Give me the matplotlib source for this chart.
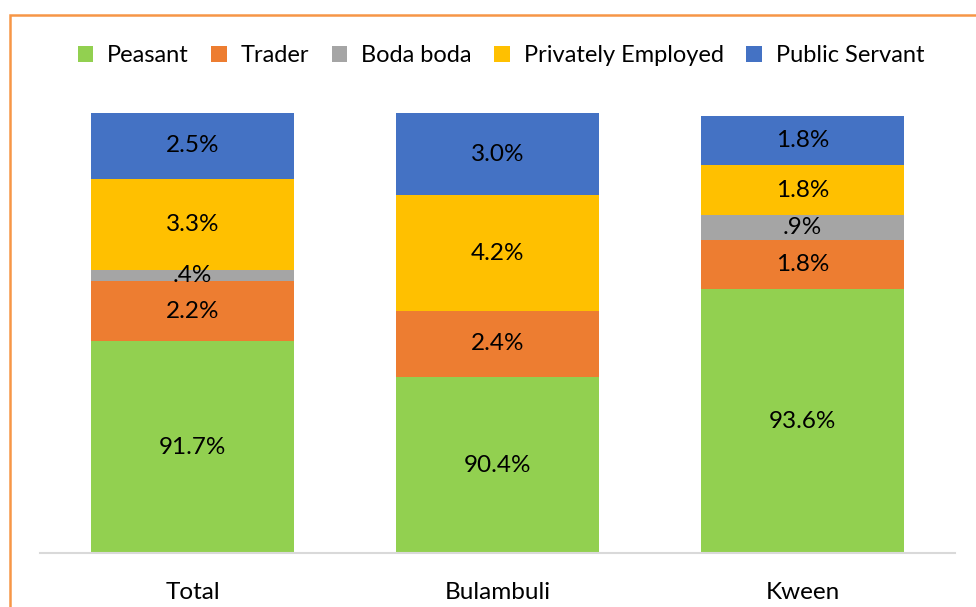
import matplotlib
matplotlib.use("Agg")
import matplotlib.pyplot as plt
from matplotlib.patches import Rectangle, Patch

categories = ["Total", "Bulambuli", "Kween"]
series_names = ["Peasant", "Trader", "Boda boda", "Privately Employed", "Public Servant"]
peasant = [91.7, 90.4, 93.6]
trader = [2.2, 2.4, 1.8]
boda = [0.4, 0.0, 0.9]
private = [3.3, 4.2, 1.8]
public = [2.5, 3.0, 1.8]
colors = ["#92D050", "#ED7D31", "#A5A5A5", "#FFC000", "#4472C4"]
y_min, y_max = 84, 100

def fmt(v):
    s = f"{v:.1f}%"
    if s.startswith("0"):
        s = s[1:]
    return s

plt.rcParams['font.family'] = ['Lato', 'DejaVu Sans']
fig = plt.figure(figsize=(9.76, 6.07), dpi=100)
ax = fig.add_axes([40/976, 1-553/607, (955-40)/976, (553-113)/607])

series = [peasant, trader, boda, private, public]
x = list(range(len(categories)))
bottoms = [0.0]*len(categories)
for name, vals, c in zip(series_names, series, colors):
    ax.bar(x, vals, bottom=bottoms, width=0.665, color=c, edgecolor="none", label=name)
    for i, v in enumerate(vals):
        if v > 0:
            lo = max(bottoms[i], y_min)
            hi = min(bottoms[i] + v, y_max)
            ax.text(x[i], (lo+hi)/2, fmt(v), ha="center", va="center", fontsize=17.5, color="#000000")
    bottoms = [b+v for b, v in zip(bottoms, vals)]

ax.set_ylim(y_min, y_max)
ax.set_xlim(-0.5, 2.5)
ax.set_yticks([])
ax.set_xticks(x)
ax.set_xticklabels(categories, fontsize=17.5)
ax.tick_params(axis="x", length=0, pad=21)
for s in ["top", "right", "left"]:
    ax.spines[s].set_visible(False)
ax.spines["bottom"].set_color("#D9D9D9")
ax.spines["bottom"].set_linewidth(1.5)

handles = [Patch(facecolor=c, edgecolor="none") for c in colors]
fig.legend(handles, series_names, loc="center", bbox_to_anchor=(501/976, 1-56/607), ncol=5,
           frameon=False, fontsize=17, handlelength=0.65, handleheight=0.65,
           handletextpad=0.6, columnspacing=0.95)

fig.patches.append(Rectangle((9.5/976, -0.1), 1.2, 1-14.5/607+0.1, transform=fig.transFigure,
                             fill=False, edgecolor="#F79646", linewidth=1.8, clip_on=False))

fig.savefig("out.png", dpi=100)
